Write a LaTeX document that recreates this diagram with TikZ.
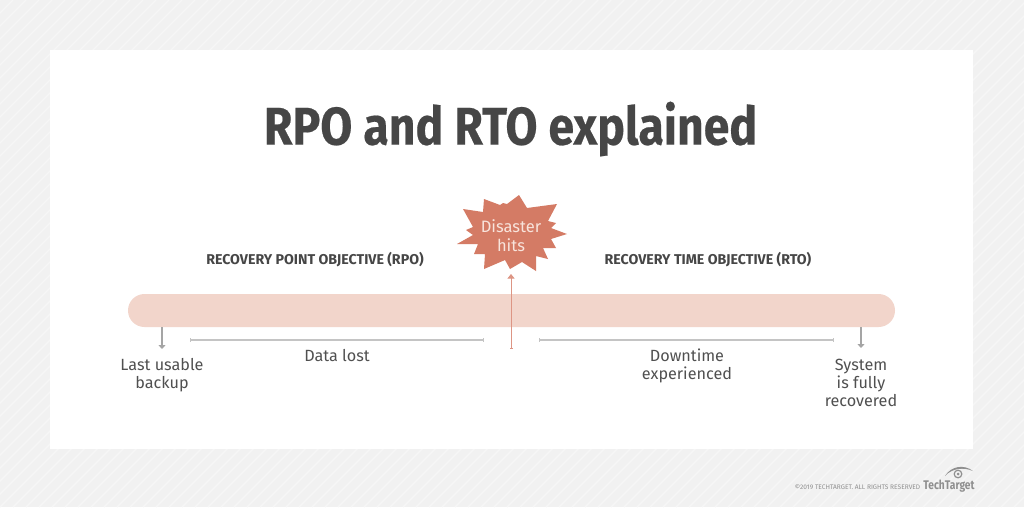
\documentclass[tikz,border=0pt]{standalone}
\usepackage{fontspec}
\setmainfont{Fira Sans}
\newfontfamily\heavyfont{Fira Sans}[UprightFont=* Bold,FakeBold=0.4]
\newfontfamily\midfont{Fira Sans}[UprightFont=* Bold]
\usetikzlibrary{arrows.meta}
\definecolor{pagebg}{HTML}{F1F1F1}
\definecolor{hatchline}{HTML}{F6F6F6}
\definecolor{inktitle}{HTML}{464646}
\definecolor{inkbody}{HTML}{505050}
\definecolor{barfill}{HTML}{F2D5CB}
\definecolor{burst}{HTML}{D47B65}
\definecolor{burstpale}{HTML}{F8E4DC}
\definecolor{rulegrey}{HTML}{C4C4C4}
\definecolor{footgrey}{HTML}{8F8F8F}
\tikzset{
  x=1pt,y=-1pt,
  heading/.style={font=\midfont\fontsize{14.2}{16}\selectfont,text=inktitle,inner sep=0pt},
  caption/.style={font=\fontsize{16.2}{18}\selectfont,text=inkbody,align=center,inner sep=0pt},
  span/.style={draw=rulegrey,line width=1.2pt,{Bar[width=3.5pt,length=0.8pt]}-{Bar[width=3.5pt,length=0.8pt]}},
  pointer/.style={draw=footgrey!80,line width=1.1pt,-{Triangle[width=7pt,length=4pt]}}
}
\begin{document}
\begin{tikzpicture}
\useasboundingbox (0,0) rectangle (1024,507);
% page background with faint diagonal hatching
\fill[pagebg] (0,0) rectangle (1024,507);
\begin{scope}
  \clip (0,0) rectangle (1024,507);
  \foreach \k in {0,13,...,1540}
    \draw[hatchline,line width=1.4pt] (\k,0) -- (\k-507,507);
\end{scope}
% white panel
\fill[white] (50,50) rectangle (973,449);

\node[font=\heavyfont\fontsize{53}{58}\selectfont,text=inktitle,inner sep=0pt,xscale=0.875] (title) at (510.5,129) {RPO and RTO explained};

% timeline bar
\fill[barfill,rounded corners=16.5pt] (128,294) rectangle (895,327);
\coordinate (barL) at (162,327);
\coordinate (barR) at (861,327);

\node[heading] (rpo) at (315,260) {RECOVERY POINT OBJECTIVE (RPO)};
\node[heading] (rto) at (708,260) {RECOVERY TIME OBJECTIVE (RTO)};

% burst marking the disaster
\fill[burst] (519,195) -- (527,208) -- (557,204) -- (548,221) -- (556,223) -- (551,228) -- (567,234) -- (551,239) -- (556,248) -- (543,248) -- (548,259) -- (536,256) -- (536,271) -- (522,262) -- (510,269) -- (505,260) -- (484,269) -- (485,254) -- (474,254) -- (478,244) -- (457,244) -- (473,235) -- (466,230) -- (473,227) -- (463,209) -- (483,212) -- (484,199) -- (500,205) -- (503,203) -- (507,204) -- cycle;
\node[font=\fontsize{16.5}{19}\selectfont,text=burstpale,align=center,inner sep=0pt] (disaster) at (511,235.5) {Disaster\\hits};

% rising arrow to the burst
\coordinate (stem) at (511,349);
\coordinate (burstfoot) at (511,274);
\draw[draw=burst!80,line width=0.9pt,{Bar[width=3pt,length=0.8pt]}-{Triangle[width=7pt,length=4.5pt]}] (stem) -- (burstfoot);

% spans under the bar
\coordinate (lostA) at (190,340);
\coordinate (lostB) at (484,340);
\coordinate (downA) at (539,340);
\coordinate (downB) at (834,340);
\draw[span] (lostA) -- (lostB);
\draw[span] (downA) -- (downB);

\coordinate (ptrL) at (162,349);
\coordinate (ptrR) at (861,348);
\draw[pointer] (barL) -- (ptrL);
\draw[pointer] (barR) -- (ptrR);

\node[caption] (backup) at (162,375) {Last usable\\backup};
\node[caption] (lost) at (337,356) {Data lost};
\node[caption] (down) at (687,366) {Downtime\\experienced};
\node[caption] (sys) at (861,382.5) {System\\is fully\\recovered};

% footer
\node[font=\fontsize{6.6}{7}\selectfont,text=footgrey,inner sep=0pt] (copy) at (857.5,487.5) {©2019 TECHTARGET. ALL RIGHTS RESERVED};
\node[font=\midfont\fontsize{12.5}{14}\selectfont,text=footgrey,inner sep=0pt,xscale=0.82] (brand) at (949,486) {TechTarget};
% eye emblem above the brand name
\fill[footgrey] (945,476) .. controls (951,466) and (964,464) .. (973,471) .. controls (964,467) and (952,468) .. cycle;
\draw[footgrey,line width=1.2pt] (958,474) circle (3.8);
\fill[footgrey] (958,474) circle (1.5);
\end{tikzpicture}
\end{document}
